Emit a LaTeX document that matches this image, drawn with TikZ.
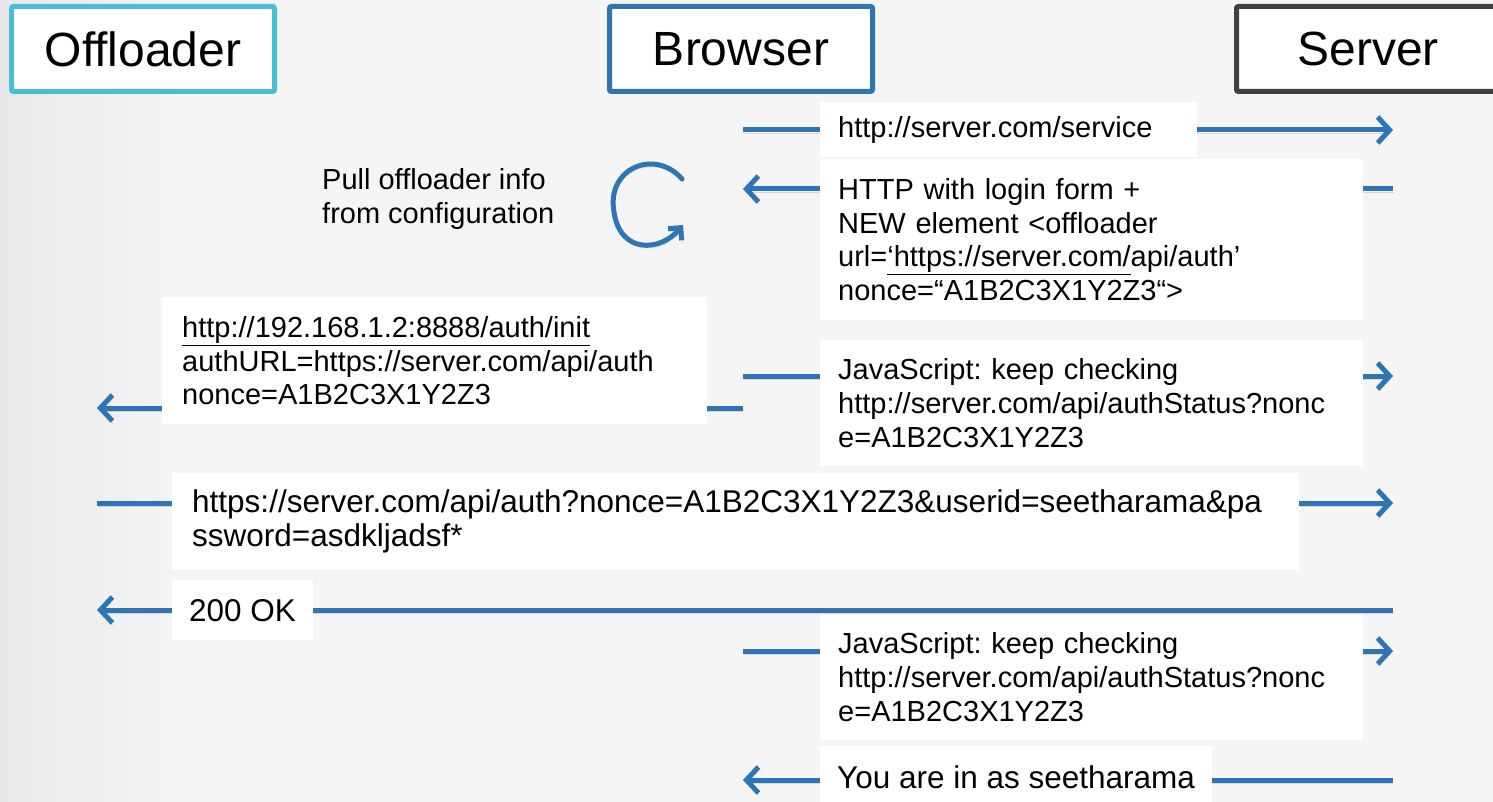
\documentclass[tikz,border=0pt]{standalone}
\usepackage{fontspec}
\setmainfont{Liberation Sans}
\usetikzlibrary{arrows.meta, positioning}
\frenchspacing

\definecolor{flowblue}{RGB}{46,117,182}
\definecolor{offcyan}{RGB}{75,190,215}
\definecolor{srvgray}{RGB}{64,64,64}
\definecolor{slidebg}{RGB}{245,245,245}
\definecolor{slideedge}{RGB}{232,232,232}

\newcommand{\bodyfont}{\fontsize{29}{33.6}\selectfont}
\newcommand{\bigfont}{\fontsize{31.5}{34}\selectfont}
\newcommand{\headfont}{\fontsize{48}{56}\selectfont}

\begin{document}
\begin{tikzpicture}[
	x=1pt, y=-1pt,
	node distance=4ex and 330pt,
	actor/.style={rectangle, draw, line width=5pt, fill=white, rounded corners=2pt,
		minimum width=263pt, minimum height=85pt, font=\headfont},
	msg/.style={rectangle, fill=white, anchor=north west, align=left,
		inner xsep=18pt, inner ysep=0pt, font=\bodyfont},
	lineshadow/.style={preaction={draw=black, opacity=0.12,
		transform canvas={shift={(1pt,-3pt)}}}},
	flow/.style={draw=flowblue, line width=5pt, lineshadow},
	msgarrow/.style={-{Straight Barb[length=12pt,width=26pt]}},
	]

	% slide background
	\useasboundingbox (0,0) rectangle (1493,802);
	\fill[slidebg] (0,0) rectangle (1493,802);
	\shade[left color=slideedge, right color=slidebg] (0,0) rectangle (180,802);

	% the three parties
	\node [actor, draw=offcyan] (offl) at (143,49) {Offloader};
	\node [actor, draw=flowblue, right=of offl] (brow) {Browser};
	\node [actor, draw=srvgray, right=359pt of brow] (serv) {Server};

	% message ends
	\coordinate (b1) at (743,130);  \coordinate (s1) at (1393,130);
	\coordinate (s2) at (1393,189); \coordinate (b2) at (743,189);
	\coordinate (b3) at (743,408);  \coordinate (o3) at (97,408);
	\coordinate (b4) at (743,376);  \coordinate (s4) at (1393,376);
	\coordinate (o5) at (97,503);   \coordinate (s5) at (1393,503);
	\coordinate (s6) at (1393,610); \coordinate (o6) at (97,610);
	\coordinate (b7) at (743,651);  \coordinate (s7) at (1393,651);
	\coordinate (s8) at (1393,780); \coordinate (b8) at (743,780);
	\coordinate (lp0) at (682,179); \coordinate (lp1) at (683,225);

	\path [flow, msgarrow] (b1) -- (s1);
	\path [flow, msgarrow] (s2) -- (b2);
	\path [flow, msgarrow] (b3) -- (o3);
	\path [flow, msgarrow] (b4) -- (s4);
	\path [flow, msgarrow] (o5) -- (s5);
	\path [flow, msgarrow] (s6) -- (o6);
	\path [flow, msgarrow] (b7) -- (s7);
	\path [flow, msgarrow] (s8) -- (b8);

	% browser reads its own configuration
	\draw [flowblue, line width=5pt, line cap=round, line join=round, lineshadow,
		-{Straight Barb[length=9pt,width=18pt]}]
		(lp0) .. controls (655,148) and (606,168) .. (614,212)
		.. controls (620,254) and (660,252) .. (lp1);
	\node [anchor=west, align=left, inner sep=0pt, font=\bodyfont] (pull) at (322,199)
		{Pull offloader info\\from configuration};

	% message labels
	\node [msg, text width=341pt, minimum height=55pt] (m1) at (820,102)
		{http://server.com/service};
	\node [msg, text width=507pt, minimum height=161pt] (m2) at (820,159)
		{HTTP with login form +\\NEW element <offloader\\url=\underline{‘https://server.com/}api/auth’\\nonce=“A1B2C3X1Y2Z3“>};
	\node [msg, inner xsep=20pt, text width=505pt, minimum height=127pt] (m3) at (162,297)
		{\underline{http://192.168.1.2:8888/auth/init}\\authURL=https://server.com/api/auth\\nonce=A1B2C3X1Y2Z3};
	\node [msg, text width=507pt, minimum height=126pt] (m4) at (820,340)
		{JavaScript: keep checking\\http://server.com/api/authStatus?nonc\\e=A1B2C3X1Y2Z3};
	\node [msg, inner xsep=20pt, text width=1087pt, minimum height=97pt, font=\bigfont] (m5) at (172,473)
		{https://server.com/api/auth?nonce=A1B2C3X1Y2Z3\&userid=seetharama\&pa\\ssword=asdkljadsf*};
	\node [msg, inner xsep=17pt, minimum height=60pt, font=\bigfont] (m6) at (172,580)
		{200 OK};
	\node [msg, text width=507pt, minimum height=126pt] (m7) at (820,614)
		{JavaScript: keep checking\\http://server.com/api/authStatus?nonc\\e=A1B2C3X1Y2Z3};
	\node [msg, inner xsep=17pt, minimum height=62pt, font=\bigfont] (m8) at (820,746)
		{You are in as seetharama};
\end{tikzpicture}
\end{document}
